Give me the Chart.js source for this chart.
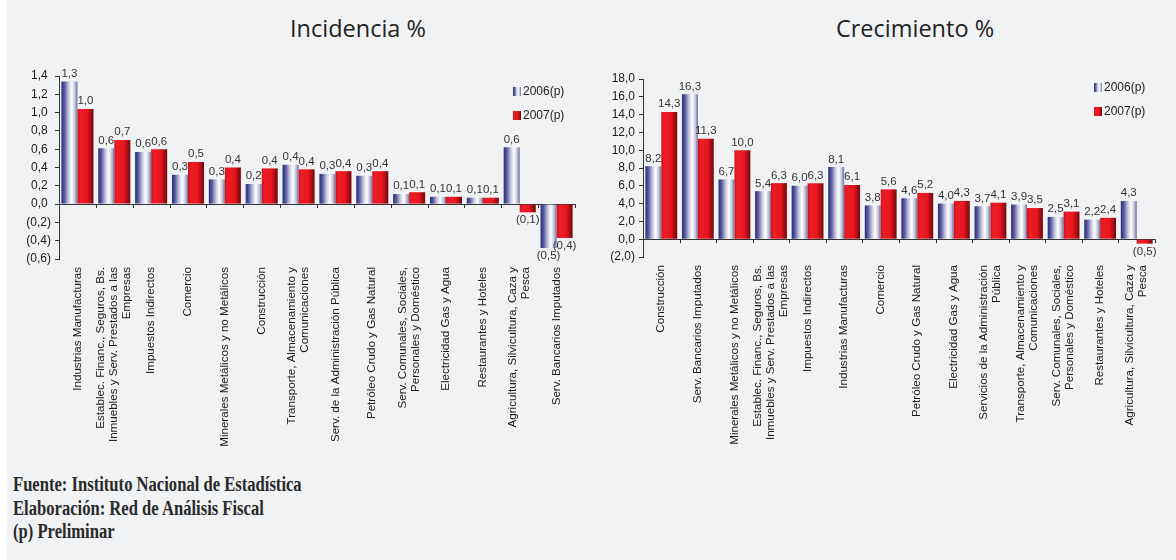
<!DOCTYPE html>
<html>
<head>
<meta charset="utf-8">
<script src="https://cdn.jsdelivr.net/npm/chart.js@4.4.1/dist/chart.umd.min.js"></script>
<style>
    body { margin: 0; background: #ffffff; }
    #page { position: relative; height: 560px; background: #f1f2f4; margin-left: 7px; width: 1169px; overflow: hidden; }
    .title { position: absolute; top: 12px; font-family: 'Open Sans', sans-serif; font-size: 23.5px; color: #222; transform: translateX(-50%); white-space: nowrap; }
    .box { position: absolute; }
    .legend { position: absolute; font-family: 'Liberation Sans', Arial, sans-serif; font-size: 12px; color: #222; }
    .legend div { height: 24px; display: flex; align-items: center; }
    .legend span.sw { display: inline-block; width: 8px; height: 9px; margin-right: 2px; }
    .sw2006 { background: linear-gradient(to right, #262a7a 0%, #5a5ca0 20%, #c8c8e0 45%, #ffffff 65%, #c0c0d8 85%, #6a6a9a 100%); }
    .sw2007 { background: linear-gradient(to right, #d0121b 0%, #ee1c25 20%, #e8161f 60%, #a00c14 85%, #6e0a0e 100%); }
    .footer { position: absolute; left: 6px; top: 473px; font-family: 'Liberation Serif', 'DejaVu Serif', serif; font-weight: bold; font-size: 20px; color: #2a2a2a; line-height: 23.5px; transform: scaleX(0.83); transform-origin: left top; white-space: nowrap; }
</style>
</head>
<body>
<div id="page">
    <div class="title" style="left:351px;">Incidencia %</div>
    <div class="title" style="left:908px;">Crecimiento %</div>
    <div class="box" style="left:-7px; top:56px; width:588px; height:404px;"><canvas id="incChart"></canvas></div>
    <div class="box" style="left:581px; top:56px; width:588px; height:404px;"><canvas id="creChart"></canvas></div>
    <div class="legend" style="left:506px; top:79px;">
        <div><span class="sw sw2006"></span>2006(p)</div>
        <div><span class="sw sw2007"></span>2007(p)</div>
    </div>
    <div class="legend" style="left:1087px; top:75px;">
        <div><span class="sw sw2006"></span>2006(p)</div>
        <div><span class="sw sw2007"></span>2007(p)</div>
    </div>
    <div class="footer">
        Fuente: Instituto Nacional de Estadística<br>
        Elaboración: Red de Análisis Fiscal<br>
        (p) Preliminar
    </div>
</div>
<script>
// ---- Data ----
var incCategories = [
    'Industrias Manufacturas',
    ['Establec. Financ., Seguros, Bs.', 'Inmuebles y Serv. Prestados a las', 'Empresas'],
    'Impuestos Indirectos',
    'Comercio',
    'Minerales Metálicos y no Metálicos',
    'Construcción',
    ['Transporte, Almacenamiento y', 'Comunicaciones'],
    'Serv. de la Administración Pública',
    'Petróleo Crudo y Gas Natural',
    ['Serv. Comunales, Sociales,', 'Personales y Doméstico'],
    'Electricidad Gas y Agua',
    'Restaurantes y Hoteles',
    ['Agricultura, Silvicultura, Caza y', 'Pesca'],
    'Serv. Bancarios Imputados'
];
var inc2006 = [1.34, 0.61, 0.57, 0.32, 0.27, 0.22, 0.43, 0.33, 0.31, 0.11, 0.08, 0.07, 0.62, -0.48];
var inc2007 = [1.04, 0.70, 0.60, 0.46, 0.40, 0.39, 0.38, 0.36, 0.36, 0.13, 0.08, 0.07, -0.09, -0.37];

var creCategories = [
    'Construcción',
    'Serv. Bancarios Imputados',
    'Minerales Metálicos y no Metálicos',
    ['Establec. Financ., Seguros, Bs.', 'Inmuebles y Serv. Prestados a las', 'Empresas'],
    'Impuestos Indirectos',
    'Industrias Manufacturas',
    'Comercio',
    'Petróleo Crudo y Gas Natural',
    'Electricidad Gas y Agua',
    ['Servicios de la Administración', 'Pública'],
    ['Transporte, Almacenamiento y', 'Comunicaciones'],
    ['Serv. Comunales, Sociales,', 'Personales y Doméstico'],
    'Restaurantes y Hoteles',
    ['Agricultura, Silvicultura, Caza y', 'Pesca']
];
var cre2006 = [8.2, 16.3, 6.7, 5.4, 6.0, 8.1, 3.8, 4.6, 4.0, 3.7, 3.9, 2.5, 2.2, 4.3];
var cre2007 = [14.3, 11.3, 10.0, 6.3, 6.3, 6.1, 5.6, 5.2, 4.3, 4.1, 3.5, 3.1, 2.4, -0.5];

var incTicks = { min: -0.6, max: 1.4, step: 0.2 };
var creTicks = { min: -2, max: 18, step: 2 };

var seriesNames = ['2006(p)', '2007(p)'];

// ---- Helpers ----
var FONT = "'Liberation Sans', Arial, sans-serif";

function fmt(v) {
    var s = Math.abs(v).toFixed(1).replace('.', ',');
    return v < 0 ? '(' + s + ')' : s;
}

// gradient stops for each series (horizontal across one bar)
var gradStops = [
    [[0, '#262a7a'], [0.2, '#5a5ca0'], [0.45, '#c8c8e0'], [0.65, '#ffffff'], [0.85, '#c0c0d8'], [1, '#6a6a9a']],
    [[0, '#d0121b'], [0.2, '#ee1c25'], [0.6, '#e8161f'], [0.85, '#a00c14'], [1, '#6e0a0e']]
];

var barLook = {
    id: 'barLook',
    beforeDatasetsDraw: function (chart) {
        var ctx = chart.ctx;
        chart.data.datasets.forEach(function (ds, i) {
            chart.getDatasetMeta(i).data.forEach(function (el) {
                var left = el.x - el.width / 2;
                var g = ctx.createLinearGradient(left, 0, left + el.width, 0);
                gradStops[i].forEach(function (s) { g.addColorStop(s[0], s[1]); });
                el.options.backgroundColor = g;
            });
        });
    },
    afterDatasetsDraw: function (chart) {
        var ctx = chart.ctx;
        var xs = chart.scales.x, ys = chart.scales.y;
        var y0 = ys.getPixelForValue(0);
        var n = chart.data.labels.length;
        var step = xs.width / n;

        // small ticks on the zero line at category boundaries
        ctx.save();
        ctx.strokeStyle = '#333';
        ctx.lineWidth = 1;
        for (var k = 1; k <= n; k++) {
            var x = Math.round(xs.left + k * step) + 0.5;
            ctx.beginPath();
            ctx.moveTo(x, y0);
            ctx.lineTo(x, y0 + 4);
            ctx.stroke();
        }

        // value labels
        ctx.font = '11.5px ' + FONT;
        ctx.fillStyle = '#333';
        ctx.textAlign = 'center';
        chart.data.datasets.forEach(function (ds, i) {
            chart.getDatasetMeta(i).data.forEach(function (el, j) {
                var v = ds.data[j];
                if (v >= 0) {
                    ctx.textBaseline = 'bottom';
                    ctx.fillText(fmt(v), el.x, el.y - 2);
                } else {
                    ctx.textBaseline = 'top';
                    ctx.fillText(fmt(v), el.x, el.y + 2);
                }
            });
        });

        // rotated category labels, multi-line blocks centred on the category
        var lh = 13;
        ctx.font = '11.6px ' + FONT;
        ctx.fillStyle = '#1a1a1a';
        ctx.textAlign = 'right';
        ctx.textBaseline = 'middle';
        chart.data.labels.forEach(function (lab, i) {
            var lines = Array.isArray(lab) ? lab : [lab];
            var cx = xs.getPixelForValue(i);
            ctx.save();
            ctx.translate(cx, chart.chartArea.bottom + 8);
            ctx.rotate(-Math.PI / 2);
            lines.forEach(function (line, k) {
                ctx.fillText(line, 0, (k - (lines.length - 1) / 2) * lh);
            });
            ctx.restore();
        });
        ctx.restore();
    }
};

function makeChart(id, labels, a, b, ticks, pad, yWidth, xHeight, padPositive) {
    return new Chart(document.getElementById(id), {
        type: 'bar',
        data: {
            labels: labels,
            datasets: [
                { label: seriesNames[0], data: a, backgroundColor: function () { return '#8080b0'; } },
                { label: seriesNames[1], data: b, backgroundColor: function () { return '#e8161f'; } }
            ]
        },
        options: {
            responsive: true,
            maintainAspectRatio: false,
            animation: false,
            layout: { padding: pad },
            datasets: { bar: { barPercentage: 1.0, categoryPercentage: 0.87, borderWidth: 0 } },
            plugins: {
                legend: { display: false },
                tooltip: { enabled: false }
            },
            scales: {
                x: {
                    grid: { display: false, drawTicks: false },
                    border: { display: false },
                    ticks: { display: false, autoSkip: false },
                    afterFit: function (s) { s.height = xHeight; }
                },
                y: {
                    min: ticks.min,
                    max: ticks.max,
                    grid: {
                        drawOnChartArea: true,
                        tickLength: 4,
                        tickColor: '#333',
                        color: function (c) { return c.tick && Math.abs(c.tick.value) < 1e-9 ? '#333' : 'rgba(0,0,0,0)'; }
                    },
                    border: { display: true, color: '#333' },
                    ticks: {
                        stepSize: ticks.step,
                        padding: 4,
                        color: '#1a1a1a',
                        font: { family: FONT, size: 12 },
                        callback: function (v) { return fmt(v) + (padPositive && v >= 0 ? ' ' : ''); }
                    },
                    afterFit: function (s) { s.width = yWidth; }
                }
            }
        },
        plugins: [barLook]
    });
}

makeChart('incChart', incCategories, inc2006, inc2007, incTicks, { left: 0, right: 13, top: 20, bottom: 0 }, 59, 201, true);
makeChart('creChart', creCategories, cre2006, cre2007, creTicks, { left: 0, right: 21, top: 23, bottom: 0 }, 55, 203, false);
</script>
</body>
</html>
